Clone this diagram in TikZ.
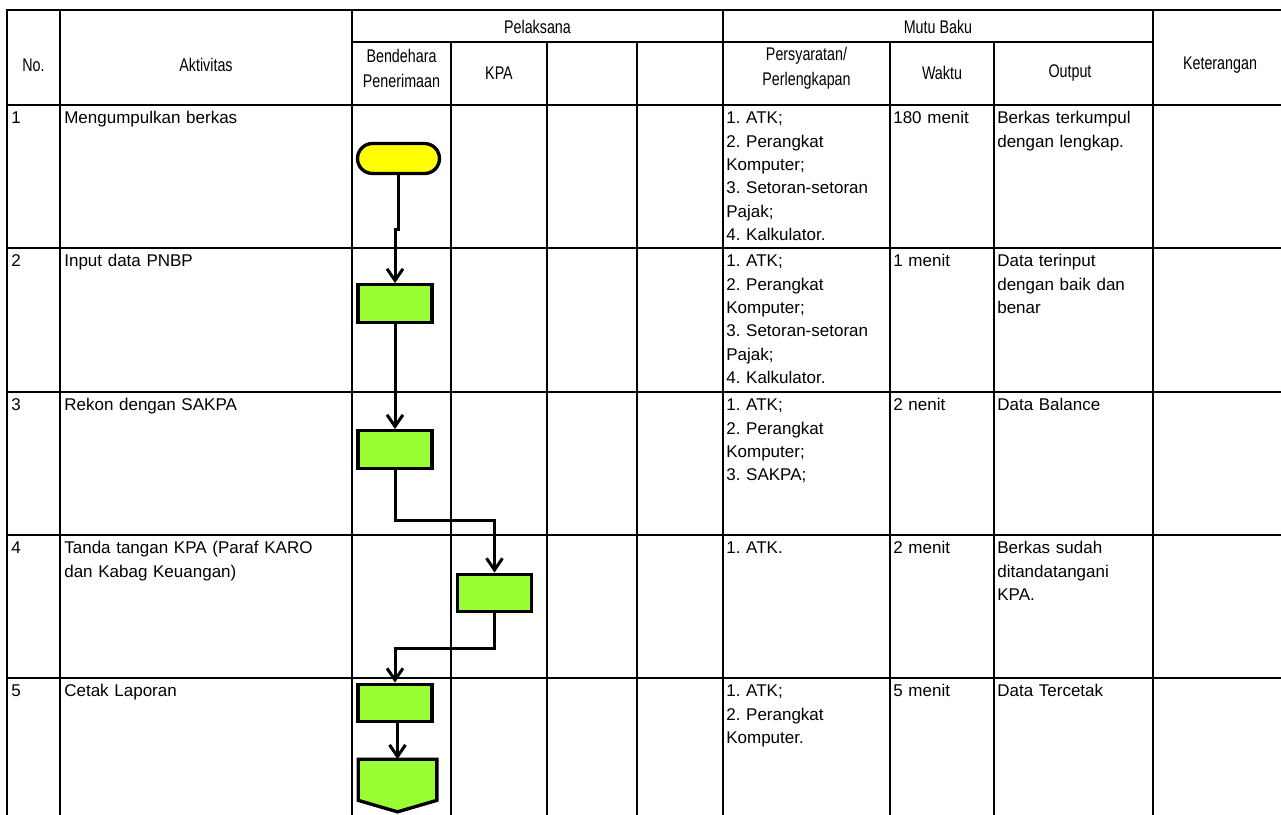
\documentclass[tikz,border=0pt]{standalone}
\usepackage{fontspec}
\setmainfont{Liberation Sans}
\newfontfamily\sempit{Liberation Sans}[FakeStretch=0.78]
\usepackage{xcolor}
\usetikzlibrary{arrows.meta, positioning, calc, shadows}

\definecolor{kuning}{HTML}{FFFF00}
\definecolor{hijau}{HTML}{99FF33}

\begin{document}
\begin{tikzpicture}[x=0.6pt, y=-0.6pt,
  tabline/.style={line width=1.2pt, line cap=rect},
  judul/.style={font=\fontsize{11}{15}\sempit, align=center, inner sep=0pt},
  isi/.style={font=\fontsize{10.2}{14}\selectfont\frenchspacing, text width=200pt,
    align=left, anchor=north west, inner sep=0pt, execute at begin node=\strut},
  simbol/.style={draw, line width=2pt,
    drop shadow={shadow xshift=0.8pt, shadow yshift=-0.8pt, opacity=0.3}},
  mulai/.style={simbol, fill=kuning, rounded corners=9pt,
    minimum width=49.2pt, minimum height=18pt},
  proses/.style={simbol, fill=hijau, minimum width=44.4pt, minimum height=22.5pt},
  alur/.style={-{Straight Barb[length=7pt, width=9.6pt]}, line width=1.8pt}]
  \useasboundingbox (0,0) rectangle (1281,815);

  % garis tabel
  \draw[tabline] (7,10) -- (1281,10);
  \draw[tabline] (352,42) -- (1153,42);
  \foreach \y in {105,248,392,535,678} \draw[tabline] (7,\y) -- (1281,\y);
  \foreach \x in {7,60,352,723,1153} \draw[tabline] (\x,10) -- (\x,815);
  \foreach \x in {451,547,637,890,994} \draw[tabline] (\x,42) -- (\x,815);

  % kepala tabel
  \node[judul] (hno) at (33.5,65) {No.};
  \node[judul] (hakt) at (206,65) {Aktivitas};
  \node[judul] (hpel) at (537.5,27) {Pelaksana};
  \node[judul] (hmutu) at (938,27) {Mutu Baku};
  \node[judul] (hket) at (1220,65) {Keterangan};
  \node[judul] (hbend) at (401.5,68) {Bendehara\\Penerimaan};
  \node[judul] (hkpa) at (499,73) {KPA};
  \node[judul] (hsyarat) at (806.5,68) {Persyaratan/\\Perlengkapan};
  \node[judul] (hwaktu) at (942,73) {Waktu};
  \node[judul] (hout) at (1070,73) {Output};

  % isi baris
  \foreach \n/\ytop/\akt/\syarat/\waktu/\hasil in {
    1/105/{Mengumpulkan berkas}/{1. ATK;\\2. Perangkat\\Komputer;\\3. Setoran-setoran\\Pajak;\\4. Kalkulator.}/{180 menit}/{Berkas terkumpul\\dengan lengkap.},
    2/248/{Input data PNBP}/{1. ATK;\\2. Perangkat\\Komputer;\\3. Setoran-setoran\\Pajak;\\4. Kalkulator.}/{1 menit}/{Data terinput\\dengan baik dan\\benar},
    3/392/{Rekon dengan SAKPA}/{1. ATK;\\2. Perangkat\\Komputer;\\3. SAKPA;}/{2 nenit}/{Data Balance},
    4/535/{Tanda tangan KPA (Paraf KARO\\dan Kabag Keuangan)}/{1. ATK.}/{2 menit}/{Berkas sudah\\ditandatangani\\KPA.},
    5/678/{Cetak Laporan}/{1. ATK;\\2. Perangkat\\Komputer.}/{5 menit}/{Data Tercetak}} {
    \node[isi] (no\n) at (11,\ytop+2) {\n};
    \node[isi] (akt\n) at (64,\ytop+2) {\akt};
    \node[isi] (syarat\n) at (726,\ytop+2) {\syarat};
    \node[isi] (waktu\n) at (893,\ytop+2) {\waktu};
    \node[isi] (hasil\n) at (997,\ytop+2) {\hasil};
  }

  % simbol alur
  \node[mulai] (mulai) at (398.5,158.5) {};
  \node[proses] (input) at (395,303.5) {};
  \node[proses] (rekon) at (395,449.5) {};
  \node[proses] (ttd) at (494.5,593) {};
  \node[proses] (cetak) at (395,703) {};
  \node[minimum width=46.8pt, minimum height=24.3pt, inner sep=0pt] (akhir) at (397.5,779.75) {};
  \draw[simbol, fill=hijau] (akhir.north west) -- (akhir.north east) -- (akhir.south east)
    -- ($(akhir.south)+(0,11.5)$) -- (akhir.south west) -- cycle;

  \draw[alur] (mulai.south) -- ++(0,54) -| (input.north);
  \draw[alur] (input.south) -- (rekon.north);
  \draw[alur] (rekon.south) -- ++(0,51) -| (ttd.north);
  \draw[alur] (ttd.south) -- ++(0,35) -| (cetak.north);
  \draw[alur] (cetak.south -| akhir.north) -- (akhir.north);
\end{tikzpicture}
\end{document}
